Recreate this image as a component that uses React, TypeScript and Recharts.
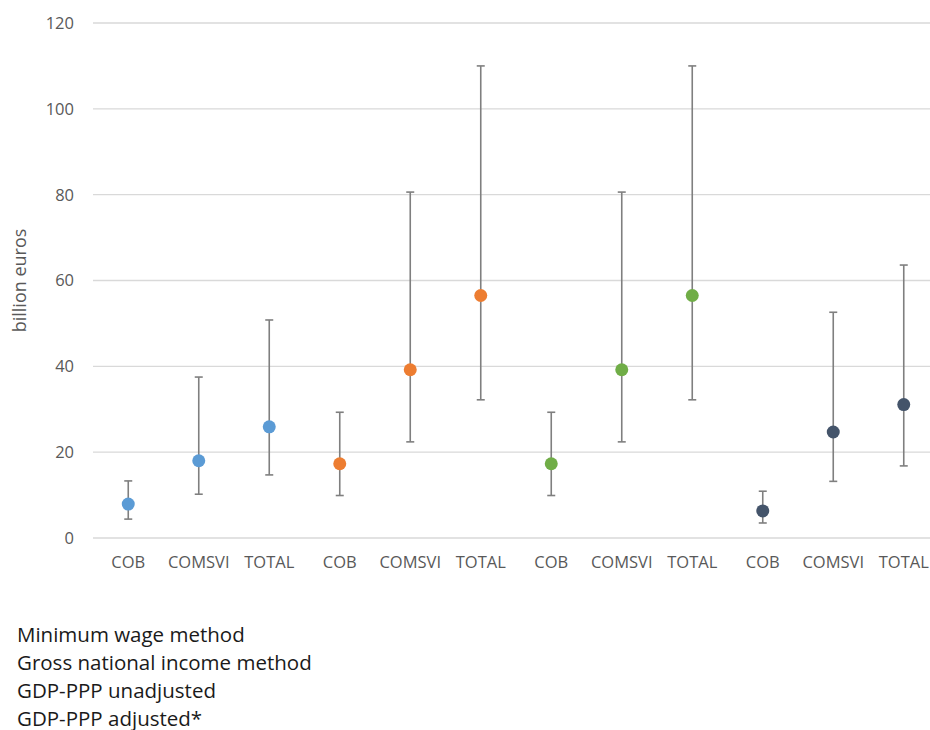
import React from 'react';
import { ScatterChart, Scatter, XAxis, YAxis, CartesianGrid, ErrorBar } from 'recharts';

const categories = ['COB', 'COMSVI', 'TOTAL', 'COB', 'COMSVI', 'TOTAL', 'COB', 'COMSVI', 'TOTAL', 'COB', 'COMSVI', 'TOTAL'];
const seriesNames = ['Minimum wage method', 'Gross national income method', 'GDP-PPP unadjusted', 'GDP-PPP adjusted*'];
const seriesColors = ['#5B9BD5', '#ED7D31', '#70AD47', '#44546A'];

const minWageValues = [7.9, 18.0, 25.9];
const minWageLow = [4.4, 10.2, 14.7];
const minWageHigh = [13.3, 37.5, 50.8];

const gniValues = [17.3, 39.2, 56.5];
const gniLow = [9.9, 22.4, 32.2];
const gniHigh = [29.3, 80.6, 110.0];

const unadjValues = [17.3, 39.2, 56.5];
const unadjLow = [9.9, 22.4, 32.2];
const unadjHigh = [29.3, 80.6, 110.0];

const adjValues = [6.3, 24.7, 31.1];
const adjLow = [3.5, 13.2, 16.8];
const adjHigh = [10.9, 52.6, 63.6];

const yTicks = [0, 20, 40, 60, 80, 100, 120];

const build = (offset: number, vals: number[], lows: number[], highs: number[]) =>
  vals.map((v, i) => ({ x: offset + i, y: v, err: [v - lows[i], highs[i] - v] }));

const seriesData = [
  build(0, minWageValues, minWageLow, minWageHigh),
  build(3, gniValues, gniLow, gniHigh),
  build(6, unadjValues, unadjLow, unadjHigh),
  build(9, adjValues, adjLow, adjHigh),
];

const xTicks = categories.map((_, i) => i);
const font = '"Open Sans", sans-serif';

const Dot = (color: string) => (props: any) => (
  <circle cx={props.cx} cy={props.cy} r={6.5} fill={color} />
);

export default function App() {
  return (
    <div style={{ position: 'absolute', left: 0, top: 0, width: 930, height: 730, overflow: 'hidden', background: '#fff' }}>
      <ScatterChart width={939} height={600} margin={{ top: 23, right: 0, bottom: 32, left: 0 }}>
        <CartesianGrid vertical={false} stroke="#D9D9D9" strokeWidth={1.3} />
        <XAxis
          type="number"
          dataKey="x"
          domain={[-0.5, 11.5]}
          ticks={xTicks}
          interval={0}
          tickFormatter={(i: number) => categories[i]}
          axisLine={false}
          tickLine={false}
          tickSize={0}
          tickMargin={18}
          height={30}
          tick={{ fill: '#595959', fontSize: 16.5, fontFamily: font }}
        />
        <YAxis
          type="number"
          dataKey="y"
          domain={[0, 120]}
          ticks={yTicks}
          axisLine={false}
          tickLine={false}
          tickSize={0}
          tickMargin={19}
          width={93}
          tick={{ fill: '#595959', fontSize: 16.5, fontFamily: font }}
          label={{
            value: 'billion euros',
            angle: -90,
            position: 'insideLeft',
            offset: 20,
            style: { textAnchor: 'middle', fill: '#595959', fontSize: 18, fontFamily: font },
          }}
        />
        {seriesData.map((d, i) => (
          <Scatter
            key={seriesNames[i]}
            name={seriesNames[i]}
            data={d}
            fill={seriesColors[i]}
            shape={Dot(seriesColors[i])}
            isAnimationActive={false}
          >
            <ErrorBar dataKey="err" direction="y" width={4} stroke="#7F7F7F" strokeWidth={1.6} />
          </Scatter>
        ))}
      </ScatterChart>
      <div style={{ position: 'absolute', left: 17, top: 620, fontFamily: font, fontSize: 20.5, lineHeight: '28px', color: '#1A1A1A' }}>
        {seriesNames.map((n) => (
          <div key={n}>{n}</div>
        ))}
      </div>
    </div>
  );
}
